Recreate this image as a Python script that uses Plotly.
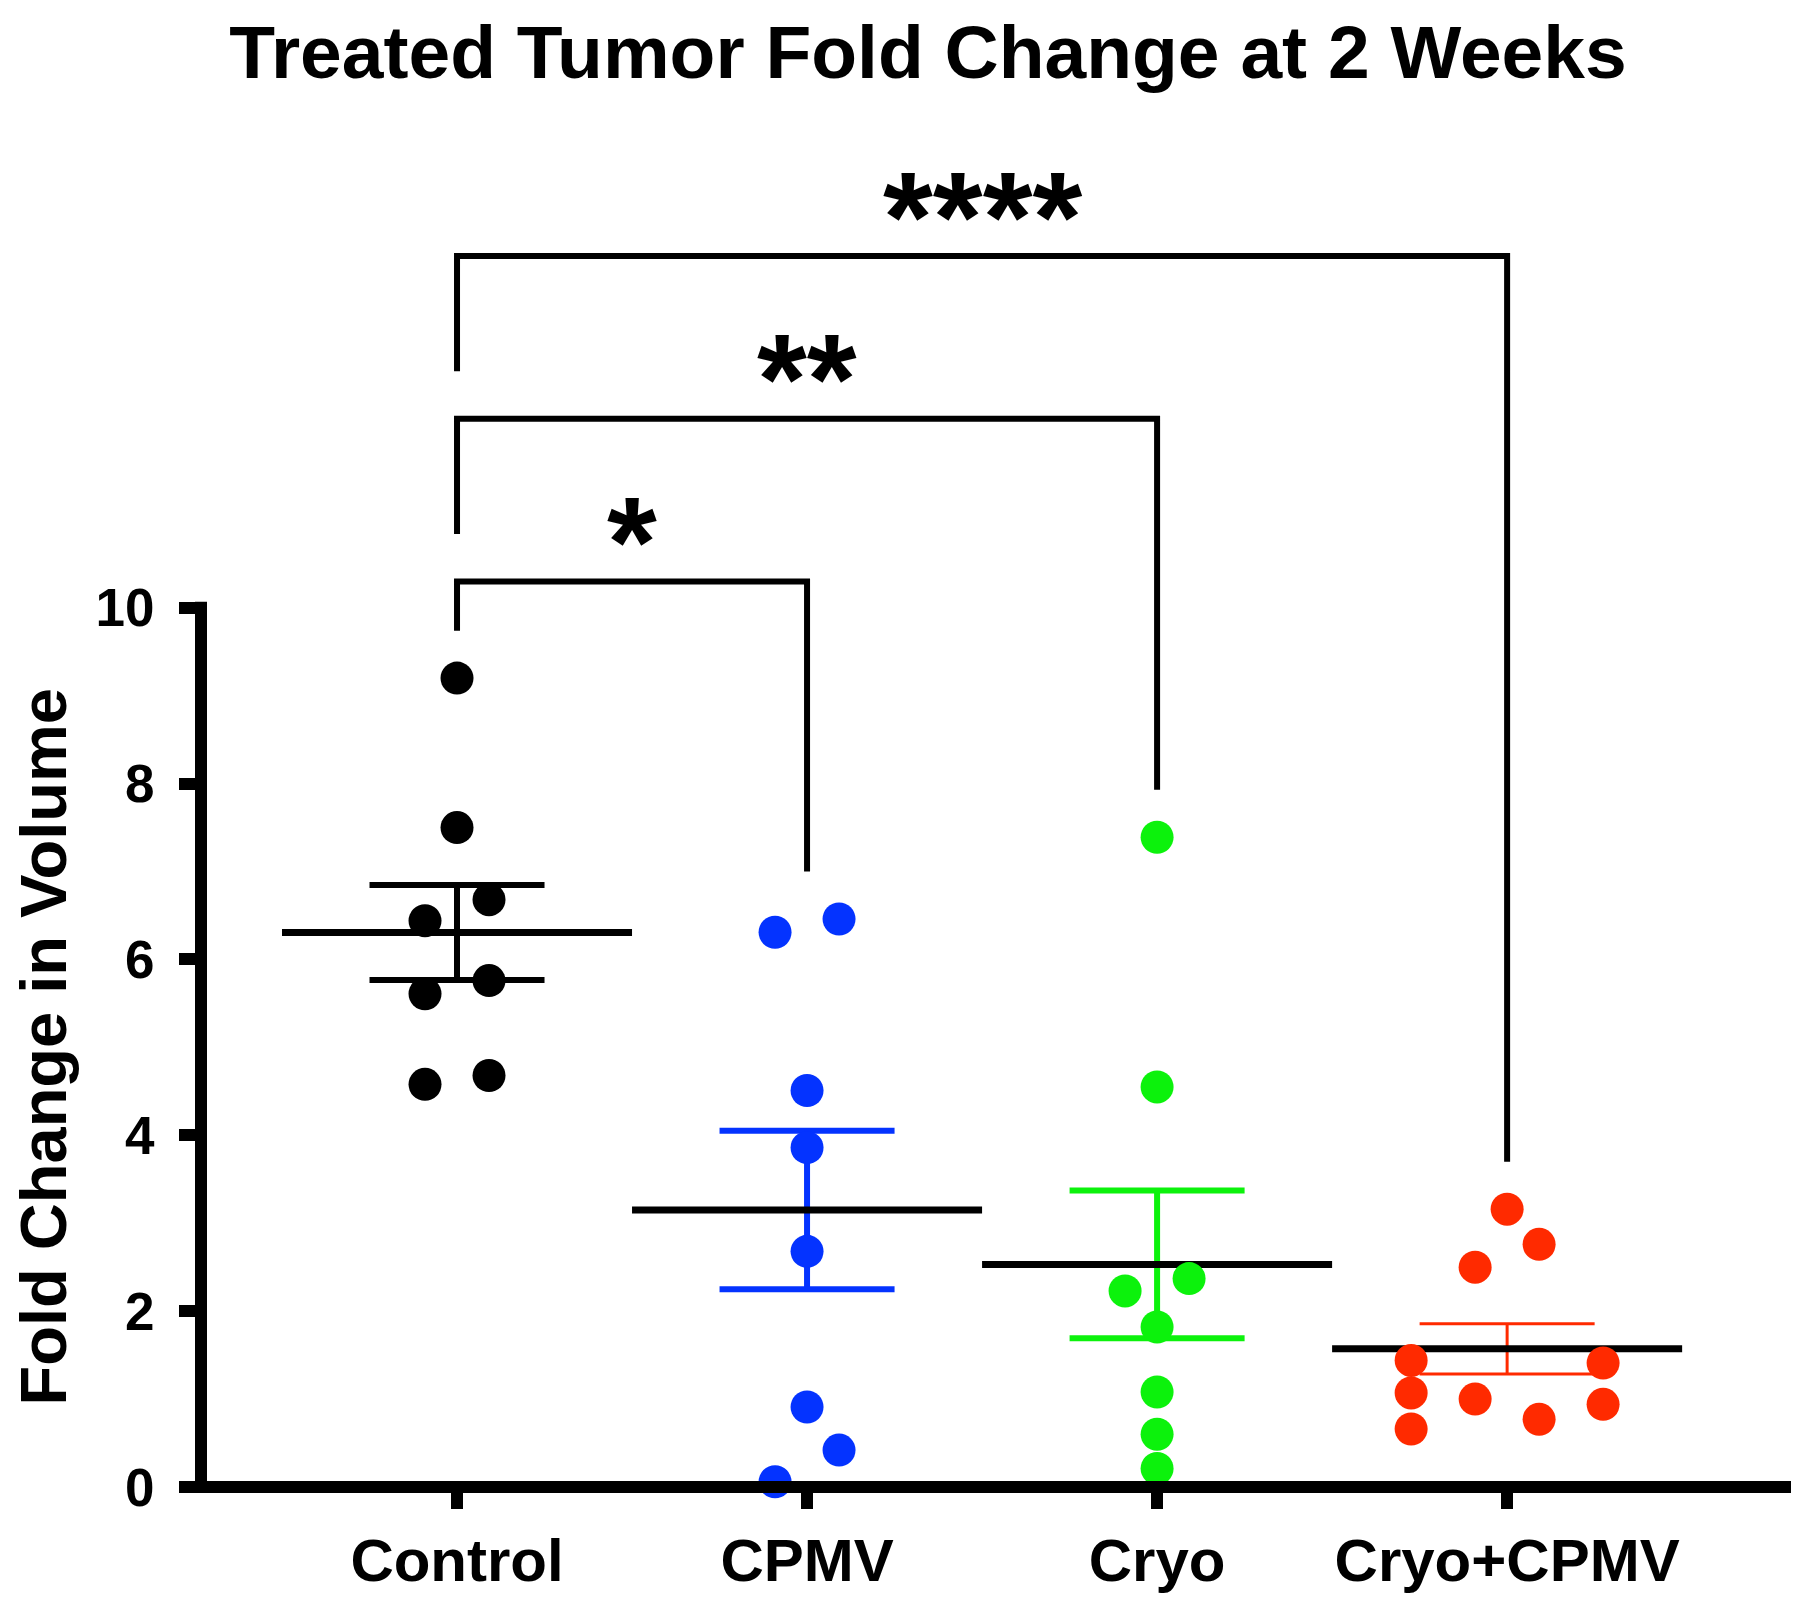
import numpy as np
import plotly.graph_objects as go

# ---------------- data ----------------
categories = ["Control", "CPMV", "Cryo", "Cryo+CPMV"]
control = [9.20, 7.50, 6.44, 6.68, 5.61, 5.76, 4.58, 4.68]
cpmv = [6.31, 6.46, 4.51, 3.86, 2.68, 0.91, 0.42, 0.06]
cryo = [7.39, 4.55, 2.23, 2.37, 1.82, 1.08, 0.60, 0.21]
cryo_cpmv = [3.16, 2.76, 2.50, 1.44, 1.41, 1.07, 1.00, 0.94, 0.66, 0.77]
y_ticks = [0, 2, 4, 6, 8, 10]
comparisons = [(0, 1, "*"), (0, 2, "**"), (0, 3, "****")]

# ---------------- layout / style constants ----------------
groups = [control, cpmv, cryo, cryo_cpmv]
slots = [
    [0, 0, -1, 1, -1, 1, -1, 1],
    [-1, 1, 0, 0, 0, 0, 1, -1],
    [0, 0, -1, 1, 0, 0, 0, 0],
    [0, 1, -1, -3, 3, -3, -1, 3, -3, 1],
]
slot_w = 0.0914
colors = ["#000000", "#0433FF", "#0CF20C", "#FF2A00"]
err_widths = [6, 6, 6, 3]
mean_half = 0.5
cap_half = 0.25
FONT = "Liberation Sans, Arial, Helvetica, sans-serif"

OFF = 8  # page body margin
W, H = 1800 - OFF, 1604 - OFF
ML, MR, MT, MB = 201 - OFF, 9, 133 - OFF, 117
XR = [-0.7314, 3.811]
YR = [0, 15.4]
ph = H - MT - MB
pw = W - ML - MR

bracket_base = 10.30
bracket_step = 1.85
leg_gap = 0.54
star_gap = 0.66

fig = go.Figure()

means, sems = [], []
for i, g in enumerate(groups):
    a = np.array(g)
    m = a.mean()
    s = a.std(ddof=1) / np.sqrt(len(a))
    means.append(m)
    sems.append(s)
    ex = [i - cap_half, i + cap_half, None, i, i, None, i - cap_half, i + cap_half]
    ey = [m + s, m + s, None, m + s, m - s, None, m - s, m - s]
    fig.add_trace(go.Scatter(x=ex, y=ey, mode="lines",
                             line=dict(color=colors[i], width=err_widths[i]),
                             hoverinfo="skip", showlegend=False))

for i, m in enumerate(means):
    fig.add_trace(go.Scatter(x=[i - mean_half, i + mean_half], y=[m, m], mode="lines",
                             line=dict(color="#000000", width=7),
                             hoverinfo="skip", showlegend=False))

for i, g in enumerate(groups):
    xs = [i + k * slot_w for k in slots[i]]
    fig.add_trace(go.Scatter(x=xs, y=g, mode="markers",
                             marker=dict(color=colors[i], size=33, line=dict(width=0)),
                             cliponaxis=False, name=categories[i], showlegend=False))

# significance brackets
bx, by = [], []
prev_top = None
for k, (a, b, label) in enumerate(comparisons):
    top = bracket_base + k * bracket_step
    left_bottom = (max(groups[a]) if prev_top is None else prev_top) + leg_gap
    right_bottom = max(groups[b]) + leg_gap
    bx += [a, a, b, b, None]
    by += [left_bottom, top, top, right_bottom, None]
    prev_top = top
    fig.add_annotation(x=(a + b) / 2, y=top + star_gap, xref="x", yref="y",
                       text="<b>" + label + "</b>", showarrow=False,
                       font=dict(family=FONT, size=128, color="black"),
                       xanchor="center", yanchor="middle", yshift=-18)
fig.add_trace(go.Scatter(x=bx, y=by, mode="lines", line=dict(color="black", width=6),
                         hoverinfo="skip", showlegend=False))

# axis lines
lw = 12
fig.add_shape(type="line", xref="paper", yref="paper",
              x0=0, x1=0, y0=-(lw / 2) / ph, y1=(10 - YR[0]) / (YR[1] - YR[0]) + (lw / 2) / ph,
              line=dict(color="black", width=lw))
fig.add_shape(type="line", xref="paper", yref="paper",
              x0=-(lw / 2) / pw, x1=1, y0=0, y1=0,
              line=dict(color="black", width=lw))

# y axis title
fig.add_annotation(x=0, y=5, xref="paper", yref="y", xshift=-158,
                   text="<b>Fold Change in Volume</b>", textangle=-90, showarrow=False,
                   font=dict(family=FONT, size=65, color="black"),
                   xanchor="center", yanchor="middle")

fig.update_layout(
    width=W, height=H,
    margin=dict(l=ML, r=MR, t=MT, b=MB),
    paper_bgcolor="white", plot_bgcolor="white",
    title=dict(text="<b>Treated Tumor Fold Change at 2 Weeks</b>",
               x=(928 - OFF) / W, xref="container", xanchor="center",
               y=1 - (52 - OFF) / H, yref="container", yanchor="middle",
               font=dict(family=FONT, size=75, color="black")),
    xaxis=dict(range=XR, tickvals=list(range(len(categories))), ticktext=categories,
               showgrid=False, zeroline=False, showline=False,
               ticks="outside", ticklen=21, tickwidth=12, tickcolor="black",
               tickfont=dict(family=FONT, size=60, color="black", weight="bold")),
    yaxis=dict(range=YR, tickvals=y_ticks, showgrid=False, zeroline=False, showline=False,
               ticks="outside", ticklen=21, tickwidth=12, tickcolor="black",
               ticklabelstandoff=14,
               tickfont=dict(family=FONT, size=53, color="black", weight="bold")),
    showlegend=False,
)

fig.write_html("out.html")
